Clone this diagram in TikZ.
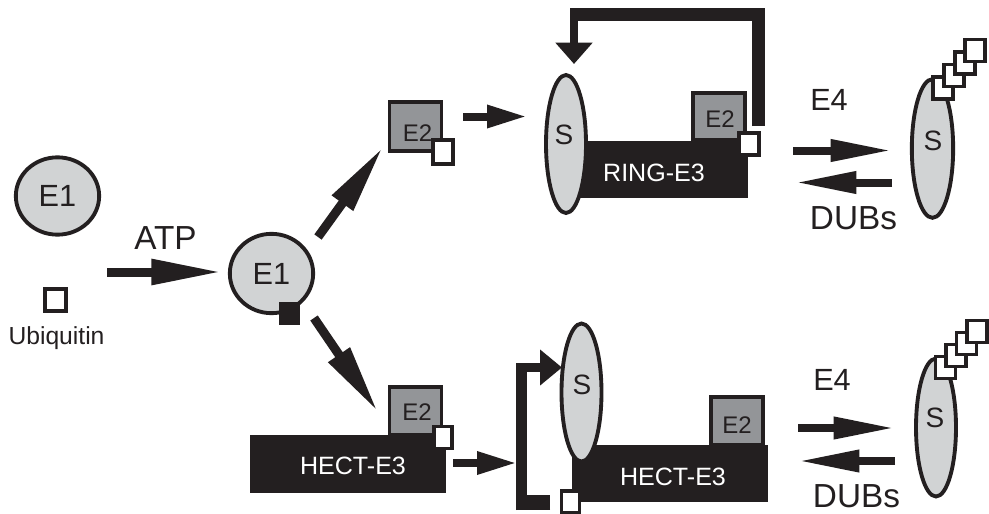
\documentclass[tikz,border=0pt]{standalone}
\usepackage{fontspec}
\setmainfont{Liberation Sans}
\usetikzlibrary{arrows.meta,shapes.geometric}
\definecolor{ink}{HTML}{231F20}
\definecolor{lite}{HTML}{D1D3D4}
\definecolor{midgray}{HTML}{939598}
\begin{document}
\begin{tikzpicture}[x=0.75pt,y=-0.75pt,
  outl/.style={draw=ink,line width=2.9pt},
  enz/.style={ellipse,outl,fill=lite,inner sep=0pt},
  sub/.style={enz,minimum width=30pt,minimum height=103.5pt},
  e2box/.style={rectangle,outl,fill=midgray,inner sep=0pt,minimum width=39pt,minimum height=36.5pt},
  ubsq/.style={rectangle,outl,fill=white,inner sep=0pt,minimum width=15pt,minimum height=16.5pt},
  bar/.style={rectangle,fill=ink,inner sep=0pt,minimum height=43pt},
  lbl/.style={text=ink,inner sep=0pt},
  wlbl/.style={text=white,inner sep=0pt,font=\fontsize{18.8}{19}\selectfont},
  fatarrow/.style={draw=ink,line width=6.75pt,-{Triangle[length=53pt,width=18pt]}},
  midarrow/.style={draw=ink,line width=6pt,-{Triangle[length=30pt,width=16pt]}},
  eqarrow/.style={draw=ink,line width=6pt,-{Triangle[length=46pt,width=15.5pt]}},
]
\useasboundingbox (0,0) rectangle (989,514);

% ---- left: free E1 and ubiquitin
\node[enz,minimum width=62.5pt,minimum height=58pt] (E1a) at (57.5,196) {};
\node[lbl,font=\fontsize{23}{23}\selectfont] (E1aT) at (57.5,196) {E1};
\node[ubsq,minimum width=16pt,minimum height=17pt] (ubq) at (55.5,300) {};
\node[lbl,anchor=base,font=\fontsize{18.5}{19}\selectfont] (ubqT) at (56.5,344) {Ubiquitin};

% ---- ATP step
\node[lbl,font=\fontsize{25}{25}\selectfont] (atp) at (165.5,238) {ATP};
\coordinate (atpS) at (107,272);
\coordinate (atpE) at (222,272);
\draw[fatarrow] (atpS) -- (atpE);

% ---- charged E1
\node[enz,minimum width=62.5pt,minimum height=59.5pt] (E1b) at (271.5,273.5) {};
\node[lbl,font=\fontsize{23}{23}\selectfont] (E1bT) at (271.5,273.5) {E1};
\node[rectangle,fill=ink,inner sep=0pt,minimum width=15.75pt,minimum height=17.25pt] (E1ub) at (289.5,313.5) {};

% ---- diagonal arrows
\coordinate (d1s) at (318,237);
\coordinate (d1e) at (383,147);
\draw[fatarrow,-{Triangle[length=52pt,width=18pt]}] (d1s) -- (d1e);
\coordinate (d2s) at (314,318);
\coordinate (d2e) at (378,412);
\draw[fatarrow,-{Triangle[length=52pt,width=18pt]}] (d2s) -- (d2e);

% ---- top branch: E2 to RING-E3
\node[e2box] (E2a) at (415.5,126.5) {};
\node[lbl,font=\fontsize{18}{18}\selectfont] (E2aT) at (417.5,133) {E2};
\node[ubsq,minimum width=15pt,minimum height=17.5pt] (ubA) at (443,152) {};
\coordinate (a1s) at (463,116.5);
\coordinate (a1e) at (527,116.5);
\draw[midarrow] (a1s) -- (a1e);

\node[bar,minimum width=141pt] (ring) at (654,169.5) {};
\node[sub] (Sa) at (566,144) {};
\node[lbl,font=\fontsize{21}{21}\selectfont] (SaT) at (564,135) {S};
\node[wlbl] (ringT) at (654,172.5) {RING-E3};
\node[e2box,minimum width=39.5pt,minimum height=35.5pt] (E2b) at (719,116.5) {};
\node[lbl,font=\fontsize{18}{18}\selectfont] (E2bT) at (720,119) {E2};
\node[ubsq] (ubB) at (749,144) {};

% feedback arrow
\coordinate (fbA) at (758.5,126);
\coordinate (fbB) at (570,14.5);
\coordinate (fbC) at (574,8);
\coordinate (fbD) at (574,64);
\draw[draw=ink,line width=9.75pt] (fbA) |- (fbB);
\draw[draw=ink,line width=6pt,-{Triangle[length=16pt,width=27pt]}] (fbC) -- (fbD);

% E4 / DUBs top
\node[lbl,font=\fontsize{23}{23}\selectfont] (E4a) at (829,100) {E4};
\coordinate (e4as) at (793,150.5);
\coordinate (e4ae) at (892,150.5);
\draw[eqarrow] (e4as) -- (e4ae);
\coordinate (dbas) at (892,182.5);
\coordinate (dbae) at (795,182.5);
\draw[eqarrow] (dbas) -- (dbae);
\node[lbl,font=\fontsize{25}{25}\selectfont] (DUBa) at (853.5,218.5) {DUBs};

\node[sub,minimum width=31pt,minimum height=104pt] (Sc) at (932.5,148.5) {};
\node[lbl,font=\fontsize{21}{21}\selectfont] (ScT) at (933,140.5) {S};
\node[ubsq] (c1) at (943,88) {};
\node[ubsq] (c2) at (953.8,75.5) {};
\node[ubsq] (c3) at (964.6,63) {};
\node[ubsq] (c4) at (975.4,50.5) {};

% ---- bottom branch: HECT-E3
\node[bar,minimum width=147pt,minimum height=43.5pt] (hectL) at (348,464) {};
\node[wlbl] (hectLT) at (353,466) {HECT-E3};
\node[e2box] (E2c) at (415.5,411) {};
\node[lbl,font=\fontsize{18}{18}\selectfont] (E2cT) at (417,412.5) {E2};
\node[ubsq,minimum width=13pt,minimum height=16.5pt] (ubC) at (443,437.5) {};
\coordinate (a2s) at (453,463);
\coordinate (a2e) at (517,463);
\draw[midarrow] (a2s) -- (a2e);

% bracket
\coordinate (brA) at (550,502.5);
\coordinate (brB) at (516,502.5);
\coordinate (brC) at (521.5,510);
\coordinate (brD) at (521.5,363);
\coordinate (brE) at (516,367.5);
\coordinate (brF) at (562,367.5);
\draw[draw=ink,line width=11.25pt] (brA) -- (brB);
\draw[draw=ink,line width=8.25pt] (brC) -- (brD);
\draw[draw=ink,line width=6.75pt,-{Triangle[length=16.5pt,width=26pt]}] (brE) -- (brF);

\node[bar,minimum width=147pt,minimum height=42.75pt] (hectR) at (670,473.5) {};
\node[sub] (Sb) at (581.5,392.5) {};
\node[lbl,font=\fontsize{21}{21}\selectfont] (SbT) at (582,385) {S};
\node[wlbl] (hectRT) at (673,477) {HECT-E3};
\node[e2box,minimum width=39.5pt,minimum height=36.5pt] (E2d) at (737,421) {};
\node[lbl,font=\fontsize{18}{18}\selectfont] (E2dT) at (737,425) {E2};
\node[ubsq,minimum width=13.5pt,minimum height=16pt] (ubD) at (570.5,502) {};

% E4 / DUBs bottom
\node[lbl,font=\fontsize{23}{23}\selectfont] (E4b) at (832,380) {E4};
\coordinate (e4bs) at (798,428);
\coordinate (e4be) at (895,428);
\draw[eqarrow] (e4bs) -- (e4be);
\coordinate (dbbs) at (895,461);
\coordinate (dbbe) at (798,461);
\draw[eqarrow] (dbbs) -- (dbbe);
\node[lbl,font=\fontsize{25}{25}\selectfont] (DUBb) at (856.5,496.5) {DUBs};

\node[sub] (Sd) at (936,427.5) {};
\node[lbl,font=\fontsize{21}{21}\selectfont] (SdT) at (935,418) {S};
\node[ubsq] (d1) at (945.5,367.5) {};
\node[ubsq] (d2) at (956,355.5) {};
\node[ubsq] (d3) at (966.5,343.5) {};
\node[ubsq] (d4) at (977,331.5) {};
\end{tikzpicture}
\end{document}
